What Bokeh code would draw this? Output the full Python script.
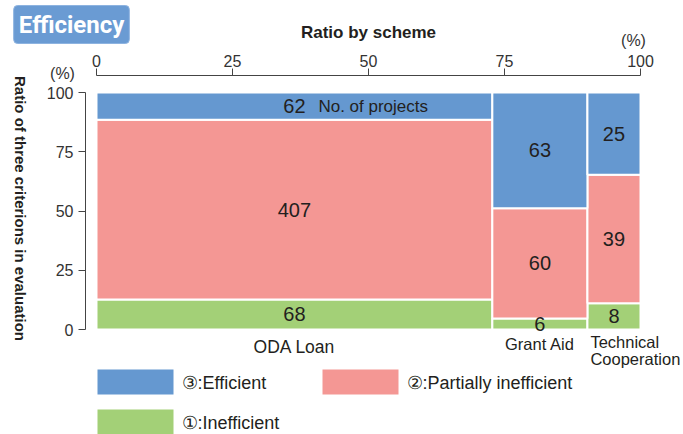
import numpy as np
from bokeh.plotting import figure
from bokeh.models import ColumnDataSource, FixedTicker, Label, LinearAxis
from bokeh.embed import file_html
from bokeh.resources import INLINE
from bokeh.core.properties import value

# ---- data ----
schemes = ["ODA Loan", "Grant Aid", "Technical\nCooperation"]
inefficient = [68, 6, 8]          # ① Inefficient
partially = [407, 60, 39]         # ② Partially inefficient
efficient = [62, 63, 25]          # ③ Efficient
ticks = [0, 25, 50, 75, 100]
tick_labels = ["0", "25", "50", "75", "100"]
legend_labels = ["③:Efficient", "②:Partially inefficient", "①:Inefficient"]

BLUE = "#6598D0"
RED = "#F49794"
GREEN = "#A3D077"
TXT = "#231F20"
FONT = "Liberation Sans"

# ---- pixel geometry helpers (layout only) ----
X0, XS = 96.0, 5.44    # pixel of x=0, px per unit
Y0, YS = 329.0, 2.37   # pixel of y=0, px per unit
def X(px):
    return (px - X0) / XS
def Y(py):
    return (Y0 - py) / YS

p = figure(width=683, height=434, output_backend="svg", toolbar_location=None,
           x_range=(X(0), X(683)), y_range=(Y(434), Y(0)),
           x_axis_location=None, y_axis_location=None,
           min_border=0, min_border_left=0, min_border_top=0,
           min_border_right=0, min_border_bottom=0, tools="")
p.outline_line_color = None
p.grid.visible = False
p.background_fill_color = "white"
p.border_fill_color = "white"

xa = LinearAxis(fixed_location=Y(75))
ya = LinearAxis(fixed_location=X(85))
p.add_layout(xa, "above")
p.add_layout(ya, "left")
for ax in (xa, ya):
    ax.ticker = FixedTicker(ticks=ticks)
    ax.major_label_overrides = {t: l for t, l in zip(ticks, tick_labels)}
    ax.bounds = (0, 100)
    ax.minor_tick_line_color = None
    ax.major_tick_in = 0
    ax.major_tick_out = 7
    ax.axis_line_color = "#444444"
    ax.major_tick_line_color = "#444444"
    ax.major_label_text_font = FONT
    ax.major_label_text_font_size = "16px"
    ax.major_label_text_color = "#333333"

xa.major_label_standoff = 2
xa.axis_label = "Ratio by scheme"
xa.axis_label_text_font = FONT
xa.axis_label_text_font_style = "bold"
xa.axis_label_text_font_size = "17px"
xa.axis_label_text_color = TXT
xa.axis_label_standoff = 10
ya.major_label_standoff = 5

# ---- mosaic geometry from counts ----
ineff = np.array(inefficient, float)
part = np.array(partially, float)
eff = np.array(efficient, float)
tot = ineff + part + eff
widths = tot / tot.sum() * 100
rights = np.cumsum(widths)
lefts = rights - widths
centers = (lefts + rights) / 2
b1 = ineff / tot * 100
b2 = b1 + part / tot * 100

segs = ColumnDataSource(dict(
    left=np.concatenate([lefts, lefts, lefts]),
    right=np.concatenate([rights, rights, rights]),
    bottom=np.concatenate([np.zeros(3), b1, b2]),
    top=np.concatenate([b1, b2, np.full(3, 100.0)]),
    color=[GREEN] * 3 + [RED] * 3 + [BLUE] * 3,
    label=[str(v) for v in inefficient + partially + efficient],
    cx=np.concatenate([centers, centers, centers]),
    cy=np.concatenate([b1 / 2, (b1 + b2) / 2, (b2 + 100) / 2]),
))
p.quad(left="left", right="right", bottom="bottom", top="top", source=segs,
       fill_color="color", line_color="white", line_width=2)
p.text(x="cx", y="cy", text="label", source=segs, text_align="center",
       text_baseline="middle", text_font=value(FONT), text_font_size="20px",
       text_color=TXT)

# "No. of projects" note next to ODA Loan efficient count
p.add_layout(Label(x=centers[0], y=(b2[0] + 100) / 2, text="No. of projects",
                   x_offset=24, text_align="left", text_baseline="middle",
                   text_font=FONT, text_font_size="17px", text_color=TXT))

# category labels
p.text(x=[centers[0]], y=[0], text=[schemes[0]], text_align="center",
       text_baseline="top", y_offset=7, text_font=value(FONT),
       text_font_size="17.5px", text_color=TXT)
p.text(x=[centers[1]], y=[0], text=[schemes[1]], text_align="center",
       text_baseline="top", y_offset=5, text_font=value(FONT),
       text_font_size="16.5px", text_color=TXT)
p.text(x=[lefts[2]], y=[0], text=[schemes[2]], text_align="left",
       text_baseline="top", x_offset=3, y_offset=3, text_font=value(FONT),
       text_font_size="16.5px", text_color=TXT, text_line_height=0.95)

# ---- legend (manual) ----
leg_x = [97, 322, 97]
leg_y = [369, 369, 409]
leg_col = [BLUE, RED, GREEN]
p.quad(left=[X(v) for v in leg_x], right=[X(v + 76) for v in leg_x],
       top=[Y(v) for v in leg_y], bottom=[Y(v + 25) for v in leg_y],
       fill_color=leg_col, line_color=None)
p.text(x=[X(v + 84) for v in leg_x], y=[Y(v + 13) for v in leg_y], text=legend_labels,
       text_align="left", text_baseline="middle", text_font=value(FONT),
       text_font_size="18px", text_color=TXT)

# ---- extra annotations ----
p.add_layout(Label(x=X(20), y=Y(208), text="Ratio of three criterions in evaluation",
                   angle=-np.pi / 2, text_align="center", text_baseline="middle",
                   text_font=FONT, text_font_style="bold", text_font_size="15px",
                   text_color=TXT))
p.add_layout(Label(x=X(62), y=Y(73), text="(%)", text_align="center",
                   text_baseline="middle", text_font=FONT, text_font_size="16px",
                   text_color="#333333"))
p.add_layout(Label(x=X(633), y=Y(40), text="(%)", text_align="center",
                   text_baseline="middle", text_font=FONT, text_font_size="16px",
                   text_color="#333333"))
p.add_layout(Label(x=X(71), y=Y(24), text="Efficiency", text_align="center",
                   text_baseline="middle", text_font="Roboto", text_font_style="bold",
                   text_font_size="24px", text_color="white",
                   background_fill_color="#6A9BD3", border_line_color="#8DB3E0",
                   border_radius=4, padding=5))

open("out.html", "w").write(file_html(p, INLINE))
